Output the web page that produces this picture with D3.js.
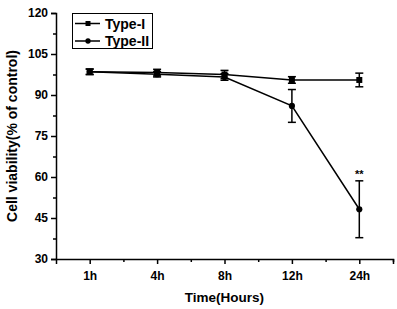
<!DOCTYPE html>
<html lang="en">
<head>
    <meta charset="UTF-8">
    <title>Cell viability</title>
    <script src="https://cdn.jsdelivr.net/npm/d3@7/dist/d3.min.js"></script>
    <style>
        body { margin: 0; background: #fff; }
        text { font-family: "Liberation Sans", Arial, sans-serif; font-weight: bold; }
    </style>
</head>
<body>
<script>
    const hours = ["1h", "4h", "8h", "12h", "24h"];
    const typeI = [98.5, 98.2, 97.5, 95.5, 95.5];
    const typeIErr = [1, 1.2, 1.5, 1.2, 2.5];
    const typeII = [98.5, 97.6, 96.6, 86, 48.2];
    const typeIIErr = [1, 1, 1.2, 6, 10.4];
    const yTicks = [30, 45, 60, 75, 90, 105, 120];

    const width = 397, height = 309;
    const svg = d3.select("body").append("svg").attr("width", width).attr("height", height);

    const x = d3.scaleLinear().domain([0.5, hours.length + 0.5]).range([56, 393]);
    const y = d3.scaleLinear().domain([30, 120]).range([259, 13]);

    // y axis
    const yAxis = d3.axisLeft(y).tickValues(yTicks).tickSize(5).tickPadding(3);
    const gy = svg.append("g").attr("transform", `translate(${x(0.5)},0)`).call(yAxis);
    gy.selectAll(".tick text").style("font-size", "12px");
    svg.append("g").attr("transform", `translate(${x(0.5)},0)`)
        .call(d3.axisLeft(y).tickValues(d3.range(37.5, 120, 15)).tickSize(3).tickFormat(""))
        .call(g => g.select(".domain").remove());

    // x axis
    const xAxis = d3.axisBottom(x).tickValues(d3.range(1, hours.length + 1))
        .tickFormat(d => hours[d - 1]).tickSize(5).tickPadding(7);
    const gx = svg.append("g").attr("transform", `translate(0,${y(30)})`).call(xAxis);
    gx.selectAll(".tick text").style("font-size", "12px");
    svg.append("g").attr("transform", `translate(0,${y(30)})`)
        .call(d3.axisBottom(x).tickValues(d3.range(1.5, hours.length + 1, 1)).tickSize(3).tickFormat(""))
        .call(g => g.select(".domain").remove());

    svg.selectAll(".domain, .tick line").attr("stroke", "#000").attr("stroke-width", 1.5);

    // axis titles
    svg.append("text").attr("x", (x(0.5) + x(5.5)) / 2).attr("y", 302)
        .attr("text-anchor", "middle").style("font-size", "13.5px").text("Time(Hours)");
    svg.append("text").attr("transform", `translate(17,${(y(30) + y(120)) / 2}) rotate(-90)`)
        .attr("text-anchor", "middle").style("font-size", "14px").text("Cell viability(% of control)");

    const line = d3.line().x((d, i) => x(i + 1)).y(d => y(d));

    function drawSeries(vals, errs, shape) {
        const g = svg.append("g");
        g.append("path").datum(vals).attr("d", line)
            .attr("fill", "none").attr("stroke", "#000").attr("stroke-width", 1.5);
        const eb = g.selectAll(".eb").data(vals).join("g");
        eb.append("line").attr("x1", (d, i) => x(i + 1)).attr("x2", (d, i) => x(i + 1))
            .attr("y1", (d, i) => y(d - errs[i])).attr("y2", (d, i) => y(d + errs[i]));
        eb.append("line").attr("x1", (d, i) => x(i + 1) - 4).attr("x2", (d, i) => x(i + 1) + 4)
            .attr("y1", (d, i) => y(d - errs[i])).attr("y2", (d, i) => y(d - errs[i]));
        eb.append("line").attr("x1", (d, i) => x(i + 1) - 4).attr("x2", (d, i) => x(i + 1) + 4)
            .attr("y1", (d, i) => y(d + errs[i])).attr("y2", (d, i) => y(d + errs[i]));
        eb.selectAll("line").attr("stroke", "#000").attr("stroke-width", 1.5);
        g.selectAll(".pt").data(vals).join("path")
            .attr("transform", (d, i) => `translate(${x(i + 1)},${y(d)})`)
            .attr("d", d3.symbol().type(shape).size(shape === d3.symbolSquare ? 36 : 30))
            .attr("fill", "#000");
    }
    drawSeries(typeI, typeIErr, d3.symbolSquare);
    drawSeries(typeII, typeIIErr, d3.symbolCircle);

    // significance mark
    svg.append("text").attr("x", x(5)).attr("y", y(typeII[4] + typeIIErr[4]) - 3)
        .attr("text-anchor", "middle").style("font-size", "11px").text("**");

    // legend
    const legend = svg.append("g");
    legend.append("rect").attr("x", 72.5).attr("y", 13.5).attr("width", 80).attr("height", 35)
        .attr("fill", "#fff").attr("stroke", "#000").attr("stroke-width", 1);
    const items = [{name: "Type-I", shape: d3.symbolSquare}, {name: "Type-II", shape: d3.symbolCircle}];
    items.forEach((it, i) => {
        const cy = 23.5 + i * 17.5;
        legend.append("line").attr("x1", 75).attr("x2", 100).attr("y1", cy).attr("y2", cy)
            .attr("stroke", "#000").attr("stroke-width", 1.5);
        legend.append("path").attr("transform", `translate(88,${cy})`)
            .attr("d", d3.symbol().type(it.shape).size(it.shape === d3.symbolSquare ? 25 : 22)).attr("fill", "#000");
        legend.append("text").attr("x", 105).attr("y", cy + 5).style("font-size", "14px").text(it.name);
    });
</script>
</body>
</html>
